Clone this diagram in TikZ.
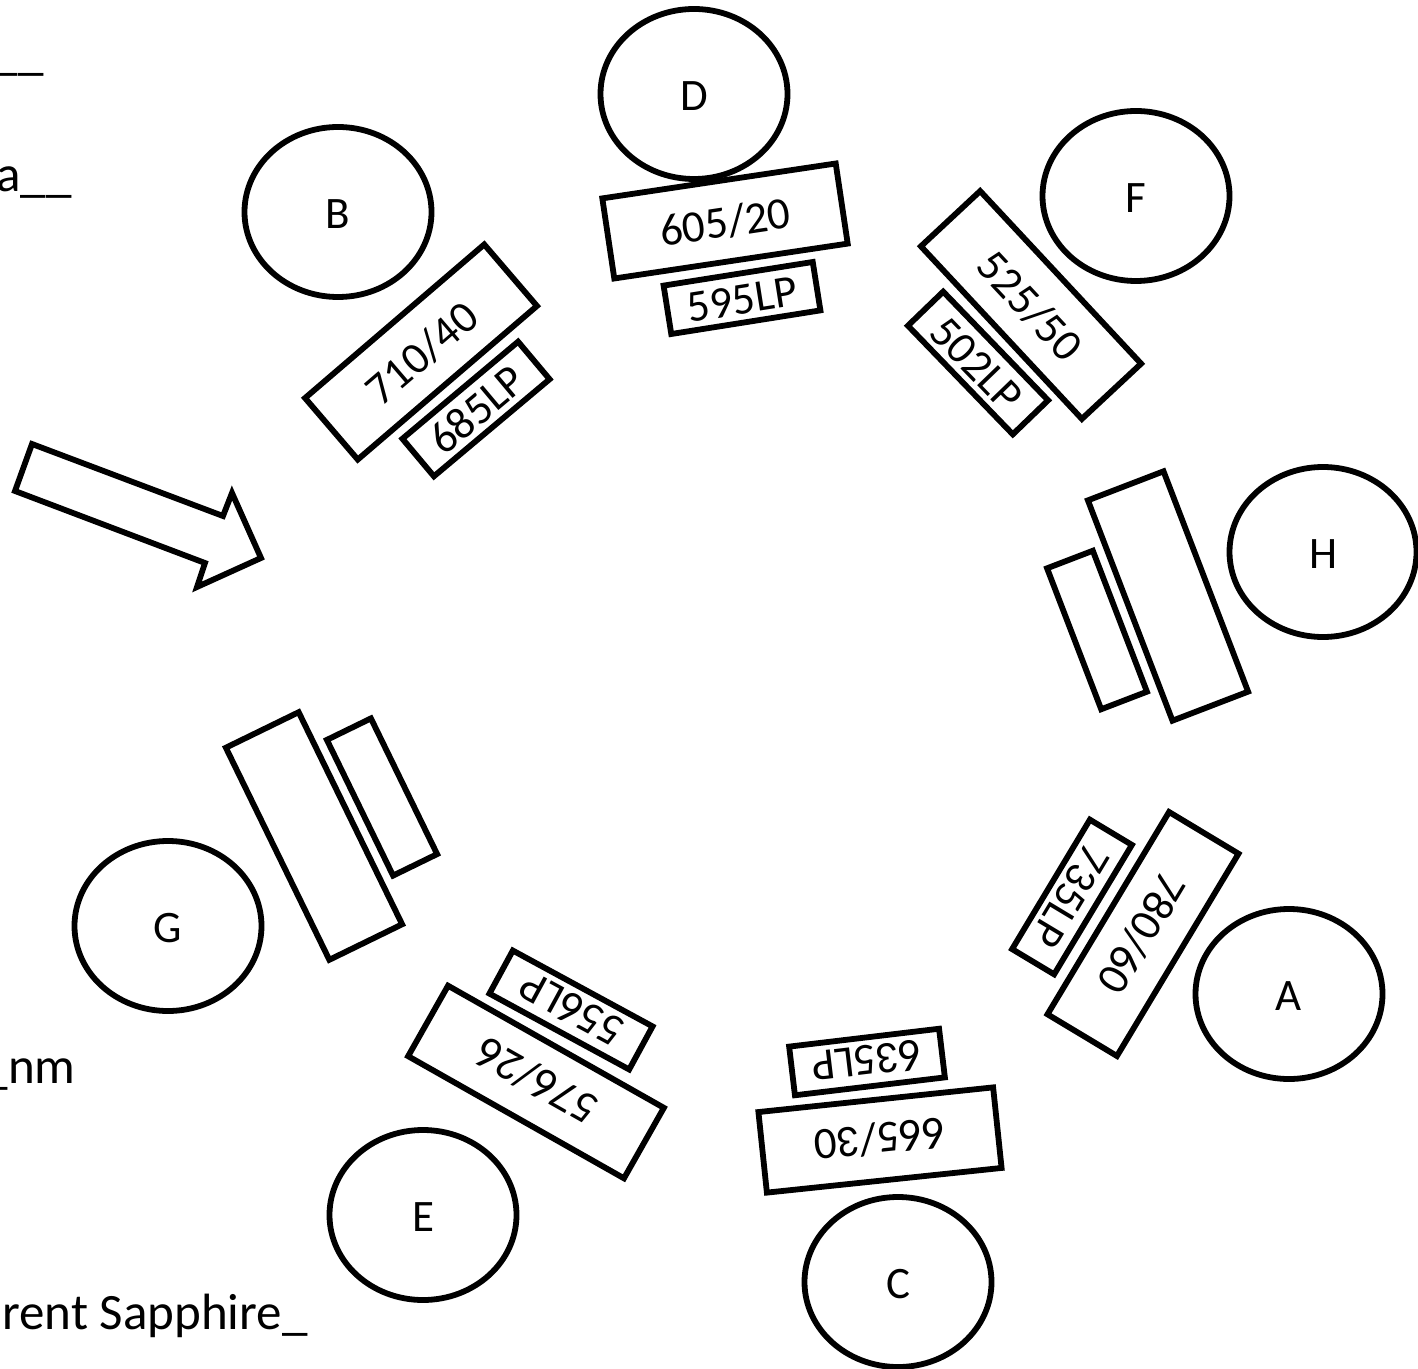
\documentclass[tikz,border=0pt]{standalone}
\usepackage{fontspec}
\setmainfont{Carlito}

\tikzset{
    labelfont/.style={font=\fontsize{22.5}{26}\selectfont, text height=16.2pt, text depth=0pt},
    detector/.style={draw, line width=2.9pt, ellipse, inner sep=0pt, minimum width=93.5pt, minimum height=85pt, labelfont},
    bandpass/.style={draw, line width=2.9pt, rectangle, inner sep=0pt, minimum width=118pt, minimum height=40.5pt, labelfont},
    longpass/.style={draw, line width=2.9pt, rectangle, inner sep=0pt, minimum width=75.5pt, minimum height=24.5pt, labelfont},
    cuttext/.style={anchor=base east, inner sep=0pt, font=\fontsize{25.5}{30}\selectfont}
}
\usetikzlibrary{shapes.geometric}

\begin{document}
\begin{tikzpicture}[x=0.5pt, y=-0.5pt]
\useasboundingbox (0, 0) rectangle (1418, 1369);

% Detectors
\node[detector] (D) at (694, 94) {D};
\node[detector] (B) at (338, 212) {B};
\node[detector] (F) at (1136, 196) {F};
\node[detector] (H) at (1323, 552) {H};
\node[detector] (A) at (1289, 994) {A};
\node[detector] (C) at (898, 1282) {C};
\node[detector] (E) at (423, 1215) {E};
\node[detector] (G) at (168, 926) {G};

% Bandpass filters
\node[bandpass, rotate=8.5] (BPD) at (725, 221) {605/20};
\node[bandpass, rotate=40.6] (BPB) at (421, 352) {710/40};
\node[bandpass, rotate=-47] (BPF) at (1031, 305) {525/50};
\node[bandpass, rotate=-69] (BPH) at (1168, 596) {};
\node[bandpass, rotate=239] (BPA) at (1143, 934) {780/60};
\node[bandpass, rotate=186] (BPC) at (880, 1140) {665/30};
\node[bandpass, rotate=150.5, minimum width=124pt] (BPE) at (536, 1082) {576/26};
\node[bandpass, rotate=-64] (BPG) at (314, 836) {};

% Longpass filters
\node[longpass, rotate=9] (LPD) at (742, 298) {595LP};
\node[longpass, rotate=40] (LPB) at (476, 409) {685LP};
\node[longpass, rotate=-46] (LPF) at (978, 363) {502LP};
\node[longpass, rotate=-69] (LPH) at (1097, 630) {};
\node[longpass, rotate=239] (LPA) at (1072, 897) {735LP};
\node[longpass, rotate=186.8] (LPC) at (867, 1062) {635LP};
\node[longpass, rotate=151.5, minimum width=79.5pt] (LPE) at (571, 1010) {556LP};
\node[longpass, rotate=-64] (LPG) at (382, 797) {};

% Arrow
\draw[line width=2.9pt, miter limit=10] (32, 444) -- (15, 491) -- (205, 563) -- (197, 587) -- (261, 558) -- (232, 493) -- (223, 516) -- cycle;

% Text cut by the edge
\node[cuttext] (T1) at (44, 70) {\_\_};
\node[cuttext] (T2) at (72, 192) {a\_\_};
\node[cuttext] (T3) at (76, 1083) {\_nm};
\node[cuttext] (T4) at (308, 1329) {rent Sapphire\_};
\end{tikzpicture}
\end{document}
